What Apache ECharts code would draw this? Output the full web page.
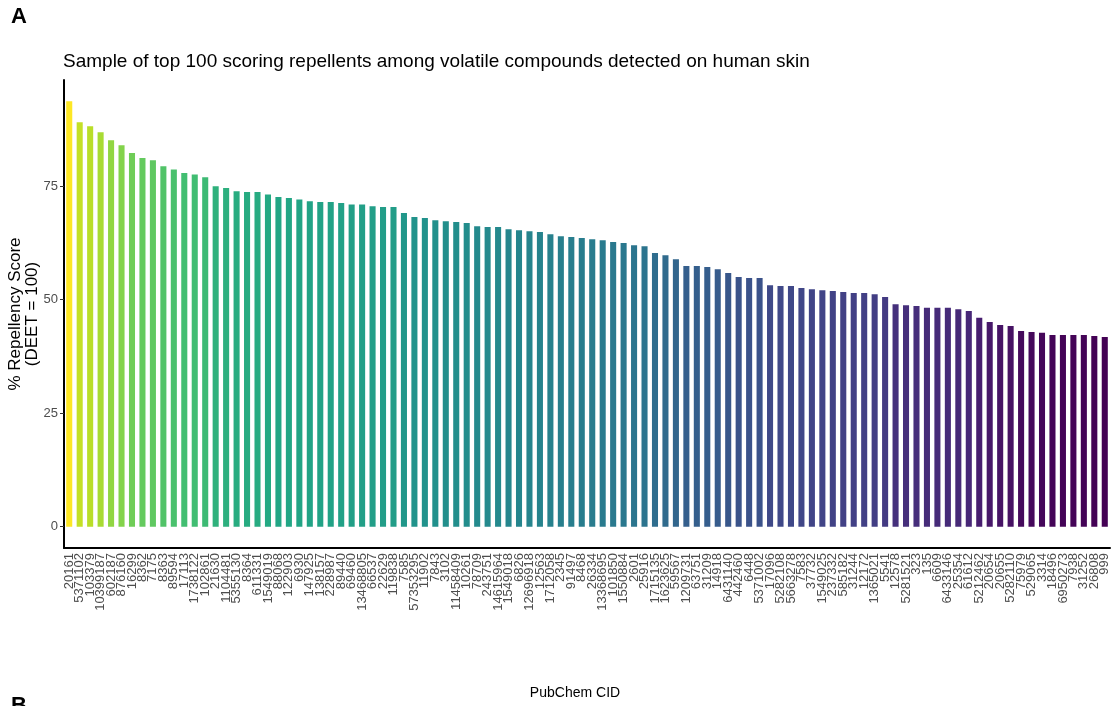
<!DOCTYPE html>
<html>
<head>
<meta charset="utf-8">
<script src="https://cdn.jsdelivr.net/npm/echarts@6/dist/echarts.min.js"></script>
<style>
  html, body { margin: 0; padding: 0; background: #ffffff; }
  #chart { width: 1113px; height: 706px; }
</style>
</head>
<body>
<div id="chart"></div>
<script>
// PubChem compound IDs, ordered by repellency score (highest first)
const compoundIds = [
  "20161", "5371102", "103379", "10399187", "602187", "876160", "16299", "8362", "7175", "8363",
  "89594", "17113", "1738122", "102861", "21630", "1104481", "5355130", "8364", "611331", "1549019",
  "88068", "122903", "6930", "147925", "138157", "228987", "89440", "69460", "13468805", "66537",
  "22629", "119838", "7585", "57353295", "11902", "7843", "3102", "11458409", "10261", "78709",
  "243751", "14615964", "1549018", "6826", "12696918", "12563", "1712058", "2345", "91497", "8468",
  "26334", "13368695", "101850", "1550884", "2601", "25916", "1715135", "1623625", "59567", "1209731",
  "63751", "31209", "14918", "6431140", "442460", "6448", "5371002", "17096", "5282108", "5663278",
  "7583", "37732", "1549025", "237332", "585182", "31244", "12172", "1365021", "5541", "12578",
  "5281521", "323", "135", "6609", "6433146", "25354", "61612", "5212462", "20654", "20655",
  "5282110", "75979", "529065", "3314", "18496", "6950273", "7938", "31252", "26808", "999"
];

// % repellency score relative to DEET (= 100)
const repellencyScores = [
  93.7, 89.1, 88.2, 86.9, 85.1, 84.0, 82.3, 81.2, 80.7, 79.4,
  78.7, 77.9, 77.6, 77.0, 75.0, 74.6, 73.9, 73.7, 73.7, 73.2,
  72.6, 72.4, 72.1, 71.7, 71.5, 71.5, 71.3, 71.0, 71.0, 70.6,
  70.4, 70.4, 69.1, 68.2, 68.0, 67.5, 67.3, 67.1, 66.9, 66.2,
  66.0, 66.0, 65.5, 65.3, 65.1, 64.9, 64.4, 64.0, 63.8, 63.6,
  63.3, 63.1, 62.7, 62.5, 62.0, 61.8, 60.3, 59.8, 58.9, 57.4,
  57.4, 57.2, 56.7, 55.9, 55.0, 54.8, 54.8, 53.2, 53.0, 53.0,
  52.6, 52.3, 52.1, 51.9, 51.7, 51.5, 51.5, 51.2, 50.6, 49.0,
  48.8, 48.6, 48.2, 48.2, 48.2, 47.9, 47.5, 46.0, 45.1, 44.4,
  44.2, 43.1, 42.9, 42.7, 42.2, 42.2, 42.2, 42.2, 42.0, 41.8
];

const yTicks = [0, 25, 50, 75];

// viridis palette, low -> high
const viridis = [
  "#440154", "#482475", "#414487", "#355f8d", "#2a788e",
  "#21918c", "#22a884", "#44bf70", "#7ad151", "#bddf26", "#fde725"
];

const textGrey = "#4d4d4d";
const fontFamily = "Liberation Sans, Arial, sans-serif";

const chart = echarts.init(document.getElementById("chart"), null, { renderer: "canvas" });

const scoreMin = Math.min(...repellencyScores);
const scoreMax = Math.max(...repellencyScores);

chart.setOption({
  animation: false,
  backgroundColor: "#ffffff",
  textStyle: { fontFamily: fontFamily },
  title: {
    text: "Sample of top 100 scoring repellents among volatile compounds detected on human skin",
    left: 58,
    top: 47,
    textStyle: { fontSize: 19, fontWeight: "normal", color: "#000000", fontFamily: fontFamily }
  },
  graphic: [
    { type: "text", left: 11, top: 6, style: { text: "A", font: "bold 22px " + fontFamily, fill: "#000" } },
    { type: "text", left: 11, top: 695, style: { text: "B", font: "bold 22px " + fontFamily, fill: "#000" } }
  ],
  visualMap: {
    show: false,
    type: "continuous",
    min: scoreMin,
    max: scoreMax,
    dimension: 1,
    seriesIndex: 0,
    inRange: { color: viridis }
  },
  grid: { left: 64, right: 3, top: 80, bottom: 158, containLabel: false, outerBoundsMode: "none" },
  xAxis: {
    type: "category",
    data: compoundIds,
    boundaryGap: true,
    name: "PubChem CID",
    nameLocation: "middle",
    nameGap: 138,
    nameMoveOverlap: false,
    nameTextStyle: { fontSize: 14, color: "#000", fontFamily: fontFamily, padding: [0, 24, 0, 0] },
    axisLine: { onZero: false, lineStyle: { color: "#000", width: 2 } },
    axisTick: { alignWithLabel: true, length: 4, lineStyle: { color: "#333" } },
    axisLabel: {
      interval: 0,
      rotate: 90,
      margin: 5,
      fontSize: 13,
      color: textGrey,
      fontFamily: fontFamily
    },
    splitLine: { show: false }
  },
  yAxis: {
    type: "value",
    min: -4.7,
    max: 98.4,
    interval: 25,
    name: "% Repellency Score\n(DEET = 100)",
    nameLocation: "middle",
    nameRotate: 90,
    nameGap: 23,
    nameMoveOverlap: false,
    nameTextStyle: { fontSize: 17, color: "#000", lineHeight: 17, fontFamily: fontFamily },
    axisLine: { show: true, lineStyle: { color: "#000", width: 2 } },
    axisTick: {
      show: true,
      length: 4,
      lineStyle: { color: "#333" },
      customValues: yTicks
    },
    axisLabel: {
      fontSize: 13,
      color: textGrey,
      margin: 6,
      fontFamily: fontFamily,
      customValues: yTicks
    },
    splitLine: { show: false }
  },
  series: [{
    type: "bar",
    data: repellencyScores,
    barWidth: "58%"
  }]
});
</script>
</body>
</html>
